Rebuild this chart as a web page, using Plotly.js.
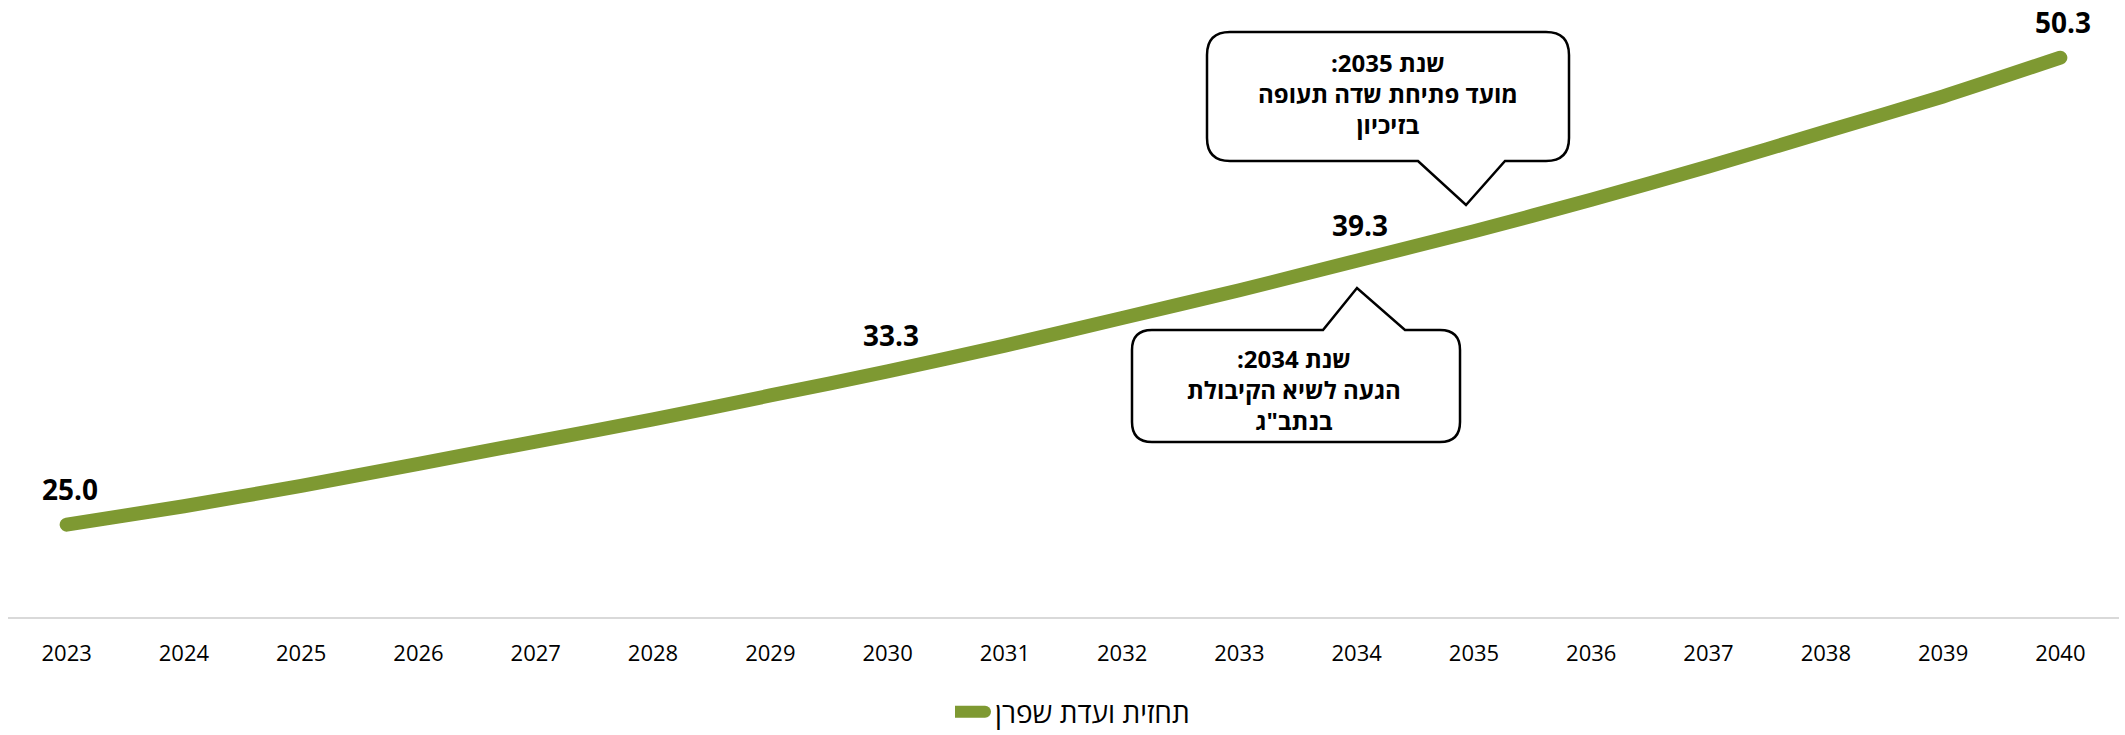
<!DOCTYPE html>
<html>
<head>
<meta charset="utf-8">
<script src="https://cdn.plot.ly/plotly-3.0.1.min.js"></script>
<style>
  html, body { margin: 0; padding: 0; background: #fff; }
  #chart { width: 2125px; height: 735px; }
  .js-line { stroke-linecap: round; stroke-linejoin: round; }
</style>
</head>
<body>
<div id="chart"></div>
<script>
// ---- data ----
const years = [2023, 2024, 2025, 2026, 2027, 2028, 2029, 2030, 2031, 2032, 2033, 2034, 2035, 2036, 2037, 2038, 2039, 2040];
const values = [25.0, 26.0, 27.1, 28.3, 29.5, 30.7, 32.0, 33.3, 34.7, 36.2, 37.7, 39.3, 40.9, 42.6, 44.4, 46.3, 48.2, 50.3];
const tickLabels = ["2023", "2024", "2025", "2026", "2027", "2028", "2029", "2030", "2031", "2032", "2033", "2034", "2035", "2036", "2037", "2038", "2039", "2040"];
const labeledYears = [2023, 2030, 2034, 2040];
const seriesName = "תחזית ועדת שפרן";
const callout2035 = ["שנת 2035:", "מועד פתיחת שדה תעופה", "בזיכיון"];
const callout2034 = ["שנת 2034:", "הגעה לשיא הקיבולת", "בנתב\"ג"];

// ---- layout geometry (pixels) ----
const W = 2125, H = 735;
const mL = 8, mR = 6, mT = 20, mB = 118;
const plotW = W - mL - mR, plotH = H - mT - mB;
const px = x => (x - mL) / plotW;           // pixel x -> paper x
const py = y => (H - mB - y) / plotH;       // pixel y -> paper y
const P = (x, y) => px(x).toFixed(5) + ',' + py(y).toFixed(5);

const FONT = '"Open Sans", "Noto Sans", "DejaVu Sans", sans-serif';
const green = '#7e9932';
const rtl = s => '\u202B' + s + '\u202C';

function bubbleDown(L, T, R, B, r, bl, tx, ty, br) {
  return 'M' + P(L + r, T) + ' L' + P(R - r, T) + ' Q' + P(R, T) + ' ' + P(R, T + r) +
    ' L' + P(R, B - r) + ' Q' + P(R, B) + ' ' + P(R - r, B) +
    ' L' + P(br, B) + ' L' + P(tx, ty) + ' L' + P(bl, B) +
    ' L' + P(L + r, B) + ' Q' + P(L, B) + ' ' + P(L, B - r) +
    ' L' + P(L, T + r) + ' Q' + P(L, T) + ' ' + P(L + r, T) + ' Z';
}
function bubbleUp(L, T, R, B, r, bl, tx, ty, br) {
  return 'M' + P(L + r, T) + ' L' + P(bl, T) + ' L' + P(tx, ty) + ' L' + P(br, T) +
    ' L' + P(R - r, T) + ' Q' + P(R, T) + ' ' + P(R, T + r) +
    ' L' + P(R, B - r) + ' Q' + P(R, B) + ' ' + P(R - r, B) +
    ' L' + P(L + r, B) + ' Q' + P(L, B) + ' ' + P(L, B - r) +
    ' L' + P(L, T + r) + ' Q' + P(L, T) + ' ' + P(L + r, T) + ' Z';
}

const shapes = [
  { type: 'path', xref: 'paper', yref: 'paper', layer: 'above',
    path: bubbleDown(1207, 32, 1569, 161, 23, 1418, 1466, 205, 1505),
    line: { color: '#000', width: 2.5 }, fillcolor: '#fff' },
  { type: 'path', xref: 'paper', yref: 'paper', layer: 'above',
    path: bubbleUp(1132, 330, 1460, 442, 20, 1323, 1357, 288, 1405),
    line: { color: '#000', width: 2.5 }, fillcolor: '#fff' }
];

const annotations = [];
labeledYears.forEach(yr => {
  const i = years.indexOf(yr);
  annotations.push({
    x: years[i], y: values[i], xref: 'x', yref: 'y',
    text: values[i].toFixed(1), showarrow: false,
    yshift: 36, xshift: 3,
    font: { family: FONT, size: 28, color: '#000', weight: 700 }
  });
});
annotations.push({
  xref: 'paper', yref: 'paper', x: px(1388), y: py(93), xanchor: 'center', yanchor: 'middle',
  text: callout2035.map(rtl).join('<br>'), showarrow: false, align: 'center',
  font: { family: FONT, size: 24, color: '#000', weight: 700 }
});
annotations.push({
  xref: 'paper', yref: 'paper', x: px(1294), y: py(390), xanchor: 'center', yanchor: 'middle',
  text: callout2034.map(rtl).join('<br>'), showarrow: false, align: 'center',
  font: { family: FONT, size: 24, color: '#000', weight: 700 }
});

const trace = {
  x: years, y: values, type: 'scatter', mode: 'lines',
  name: rtl(seriesName),
  line: { color: green, width: 14, shape: 'spline', smoothing: 0.6 },
  hoverinfo: 'x+y'
};

const layout = {
  width: W, height: H,
  margin: { l: mL, r: mR, t: mT, b: mB, pad: 0, autoexpand: false },
  paper_bgcolor: '#fff', plot_bgcolor: '#fff',
  font: { family: FONT, color: '#000' },
  showlegend: true,
  legend: {
    orientation: 'h', x: px(1075), xanchor: 'center', y: py(712), yanchor: 'middle',
    font: { family: FONT, size: 28, color: '#000' }, bgcolor: 'rgba(0,0,0,0)'
  },
  xaxis: {
    range: [2022.5, 2040.5], tickvals: years, ticktext: tickLabels,
    showgrid: false, zeroline: false, showline: true, linecolor: '#d9d9d9', linewidth: 2,
    ticks: '', ticklabelstandoff: 16, automargin: false,
    tickfont: { family: FONT, size: 22, color: '#000' }, fixedrange: true
  },
  yaxis: {
    range: [20, 20 + plotH / 18.46], visible: false, showgrid: false, zeroline: false, fixedrange: true
  },
  shapes: shapes,
  annotations: annotations
};

Plotly.newPlot('chart', [trace], layout, { displayModeBar: false, staticPlot: true }).then(gd => {
  // lengthen the legend line sample to match the reference
  gd.querySelectorAll('.legend .js-line').forEach(p => {
    p.setAttribute('d', 'M-20,0h50');
    p.style.strokeWidth = '12px';
  });
});
</script>
</body>
</html>
